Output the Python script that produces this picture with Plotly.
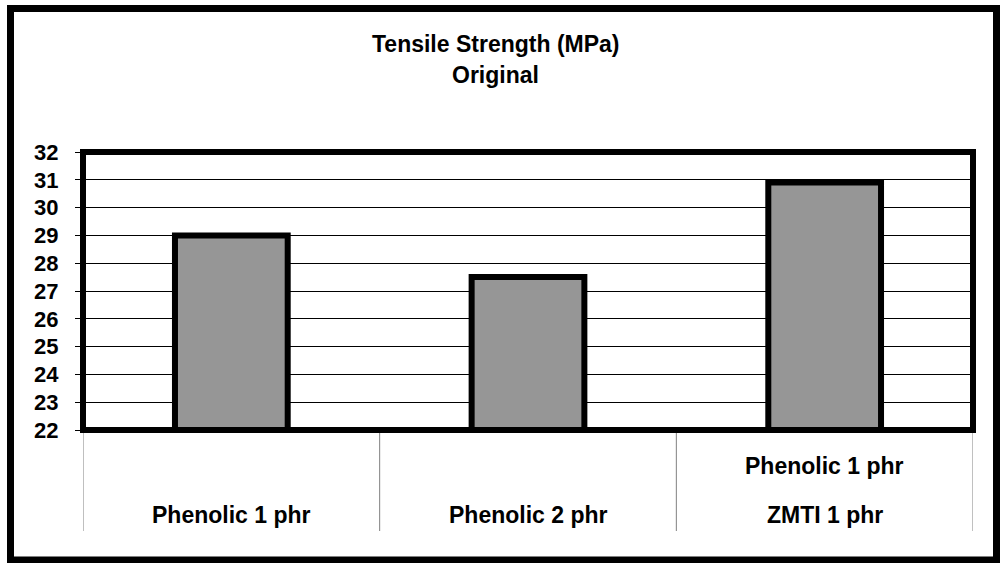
import plotly.graph_objects as go

categories = ["Phenolic 1 phr", "Phenolic 2 phr", "Phenolic 1 phr / ZMTI 1 phr"]
label_lines = [["Phenolic 1 phr"], ["Phenolic 2 phr"], ["Phenolic 1 phr", "ZMTI 1 phr"]]
values = [29.0, 27.5, 30.9]
y_ticks = list(range(22, 33))
title_lines = ["Tensile Strength (MPa)", "Original"]

W, H = 1000, 563
L, R, T, B = 83, 973, 152, 430

def px(x):
    return (x - L) / (R - L)

def py(y):
    return (B - y) / (B - T)

FONT = "Liberation Sans, Arial, sans-serif"
FS = 23

fig = go.Figure()
fig.add_trace(go.Bar(
    x=list(range(len(categories))), y=values, width=0.38,
    marker=dict(color="#969696", line=dict(color="black", width=6)),
    hovertext=categories,
))

fig.update_layout(
    width=W, height=H,
    margin=dict(l=L, r=W - R, t=T, b=H - B, autoexpand=False),
    paper_bgcolor="white", plot_bgcolor="white",
    showlegend=False,
    font=dict(family=FONT, size=FS, color="black"),
)
fig.update_xaxes(range=[-0.5, 2.5], showticklabels=False, showgrid=False,
                 zeroline=False, showline=False, ticks="")
fig.update_yaxes(range=[22, 32], tickvals=y_ticks,
                 ticktext=[f"<b>{v}</b>" for v in y_ticks],
                 showgrid=True, gridcolor="black", gridwidth=1,
                 zeroline=False, showline=False, ticks="outside",
                 ticklen=7, tickcolor="black", tickwidth=1,
                 ticklabelstandoff=12,
                 tickfont=dict(family=FONT, size=22, color="black"))

shapes = []
# plot-area border
shapes.append(dict(type="rect", xref="paper", yref="paper", x0=0, x1=1, y0=0, y1=1,
                   line=dict(color="black", width=6), layer="above"))
# outer frame
shapes.append(dict(type="rect", xref="paper", yref="paper",
                   x0=px(10.5), x1=px(996.5), y0=py(560), y1=py(8.5),
                   line=dict(color="black", width=7), layer="above"))
# category dividers
for b in [-0.5, 0.5, 1.5, 2.5]:
    shapes.append(dict(type="line", xref="x", yref="paper", x0=b, x1=b,
                       y0=py(433), y1=py(531), line=dict(color="#808080", width=1)))
fig.update_layout(shapes=shapes)

ann = []
for i, lines in enumerate(label_lines):
    ys = [515] if len(lines) == 1 else [466, 515]
    for t, yy in zip(lines, ys):
        ann.append(dict(x=i, y=py(yy), xref="x", yref="paper", text=f"<b>{t}</b>",
                        showarrow=False, xanchor="center", yanchor="middle",
                        font=dict(family=FONT, size=FS, color="black")))
for t, yy in zip(title_lines, [44, 75]):
    ann.append(dict(x=px(495.5), y=py(yy), xref="paper", yref="paper", text=f"<b>{t}</b>",
                    showarrow=False, xanchor="center", yanchor="middle",
                    font=dict(family=FONT, size=FS, color="black")))
fig.update_layout(annotations=ann)

fig.write_html("out.html", config={"displayModeBar": False},
               post_script="document.body.style.margin='0';")
